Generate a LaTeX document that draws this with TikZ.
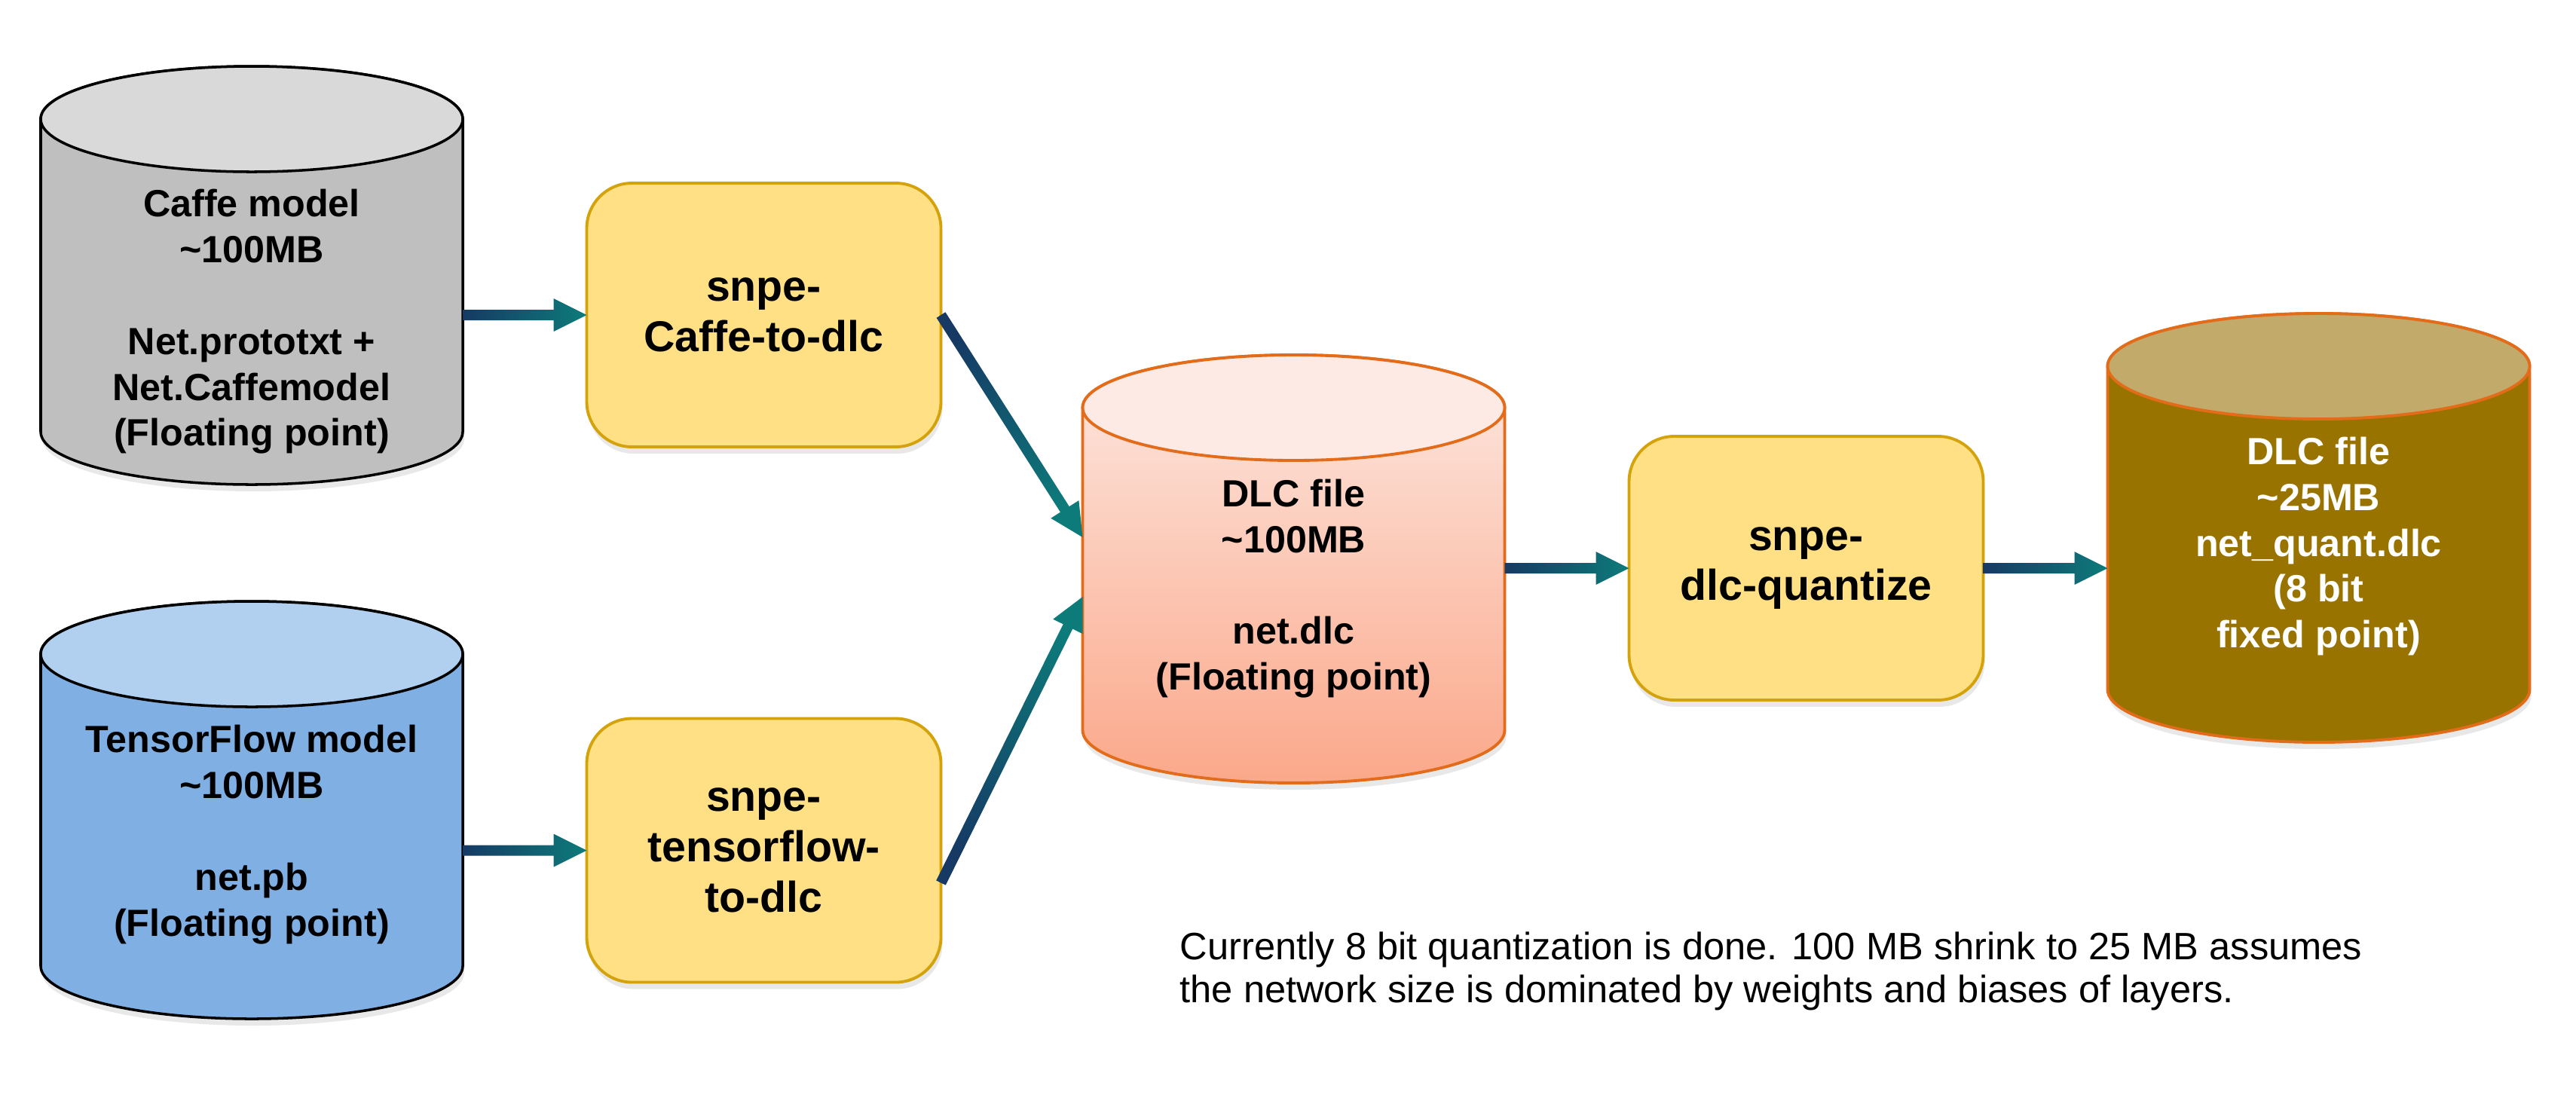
\documentclass[tikz,border=0pt]{standalone}
\usepackage{fontspec}
\setmainfont{Liberation Sans}
\usetikzlibrary{calc,shadows}

\definecolor{caffebody}{HTML}{BFBFBF}
\definecolor{caffetop}{HTML}{D9D9D9}
\definecolor{tfbody}{HTML}{7FAFE3}
\definecolor{tftop}{HTML}{B1CFEE}
\definecolor{dlchi}{HTML}{FDE8E1}
\definecolor{dlclo}{HTML}{FBA88A}
\definecolor{dlctop}{HTML}{FDEAE4}
\definecolor{dlcline}{HTML}{E36C1B}
\definecolor{quantbody}{HTML}{997300}
\definecolor{quanttop}{HTML}{C2AB6A}
\definecolor{boxfill}{HTML}{FFE084}
\definecolor{boxline}{HTML}{D4A20A}
\definecolor{arrowtail}{HTML}{163A64}
\definecolor{arrowhead}{HTML}{0D7B7A}

\newcommand\cylfont{\fontsize{14.3}{17.3}\selectfont\bfseries}
\newcommand\boxfont{\fontsize{16.3}{19}\selectfont\bfseries}

% cylinder: body style, top style, (centre x, top y, bottom y)
\def\dbcyl[#1][#2](#3,#4,#5){\path[#1] (#3-2.8,#4) -- (#3-2.8,#5) arc (180:360:2.8 and 0.7) -- (#3+2.8,#4) arc (0:180:2.8 and 0.7) -- cycle; \path[#2] (#3,#4) ellipse (2.8 and 0.7);}

% thick block arrow with a colour run from tail to head
\newcommand\flowarrow[2]{%
  \path let \p1=($(#2)-(#1)$) in \pgfextra{\pgfmathsetmacro\fashade{atan2(\y1,\x1)-90}\global\let\fashade\fashade};
  \coordinate (fa-base) at ($(#2)!0.44cm!(#1)$);
  \path[arrowshade, shading angle=\fashade] ($(#1)!0.07cm!90:(#2)$) -- ($(fa-base)!0.07cm!90:(#2)$) -- ($(fa-base)!0.22cm!90:(#2)$) -- (#2) -- ($(fa-base)!0.22cm!-90:(#2)$) -- ($(fa-base)!0.07cm!-90:(#2)$) -- ($(#1)!0.07cm!-90:(#2)$) -- cycle;}

\tikzset{
  softshadow/.style={drop shadow={shadow xshift=0.02cm, shadow yshift=-0.09cm, opacity=0.18}},
  dbtext/.style={minimum width=5.6cm, inner sep=0, outer sep=0, align=center, font=\cylfont},
  snpebox/.style={rounded corners=0.6cm, draw=boxline, line width=1.1pt, fill=boxfill, minimum width=4.7cm, minimum height=3.5cm, outer sep=0, align=center, font=\boxfont, softshadow},
  arrowshade/.style={bottom color=arrowtail, top color=arrowhead},
}

\begin{document}
\begin{tikzpicture}
			%%%%% START %%%%%
			\useasboundingbox (0,0) rectangle (34.18,-14.80);

			\dbcyl[draw=black, line width=1pt, fill=caffebody, softshadow][draw=black, line width=1pt, fill=caffetop](3.34,-1.58,-5.73)
			\dbcyl[draw=black, line width=1pt, fill=tfbody, softshadow][draw=black, line width=1pt, fill=tftop](3.34,-8.68,-12.82)
			\dbcyl[draw=dlcline, line width=1.1pt, top color=dlchi, bottom color=dlclo, softshadow][draw=dlcline, line width=1.1pt, fill=dlctop](17.165,-5.41,-9.69)
			\dbcyl[draw=dlcline, line width=1.1pt, fill=quantbody, softshadow][draw=dlcline, line width=1.1pt, fill=quanttop](30.765,-4.86,-9.15)

			\node[dbtext] (caffe) at (3.34,-4.27) {Caffe model\\\textasciitilde100MB\\[17.3pt]Net.prototxt +\\Net.Caffemodel\\(Floating point)};
			\node[dbtext] (tf) at (3.34,-11.075) {TensorFlow model\\\textasciitilde100MB\\[17.3pt]net.pb\\(Floating point)};
			\node[dbtext] (dlc) at (17.165,-7.81) {DLC file\\\textasciitilde100MB\\[17.3pt]net.dlc\\(Floating point)};
			\node[dbtext, text=white] (quant) at (30.765,-7.25) {DLC file\\\textasciitilde25MB\\net\_quant.dlc\\(8 bit\\fixed point)};

			\node[snpebox] (caffebox) at (10.135,-4.18) {snpe-\\Caffe-to-dlc};
			\node[snpebox] (tfbox) at (10.135,-11.285) {snpe-\\tensorflow-\\to-dlc};
			\node[snpebox] (quantbox) at (23.965,-7.54) {snpe-\\dlc-quantize};

			\coordinate (caffe-out) at (caffebox.west -| caffe.east);
			\coordinate (tf-out) at (tfbox.west -| tf.east);
			\coordinate (tfbox-out) at ($(tfbox.east)+(0,-0.43)$);
			\coordinate (dlc-in1) at ($(dlc.west)+(0,0.68)$);
			\coordinate (dlc-in2) at ($(dlc.west)+(0,-0.11)$);
			\coordinate (dlc-out) at (quantbox.west -| dlc.east);
			\coordinate (quant-in) at (quantbox.east -| quant.west);

			\flowarrow{caffe-out}{caffebox.west}
			\flowarrow{tf-out}{tfbox.west}
			\flowarrow{caffebox.east}{dlc-in1}
			\flowarrow{tfbox-out}{dlc-in2}
			\flowarrow{dlc-out}{quantbox.west}
			\flowarrow{quantbox.east}{quant-in}

			\node[anchor=west, align=left, inner sep=0, font=\fontsize{14.4}{16.2}\selectfont] (remark) at (15.65,-12.89) {Currently 8 bit quantization is done. 100 MB shrink to 25 MB assumes\\the network size is dominated by weights and biases of layers.};
			%%%%% END %%%%%
\end{tikzpicture}
\end{document}
